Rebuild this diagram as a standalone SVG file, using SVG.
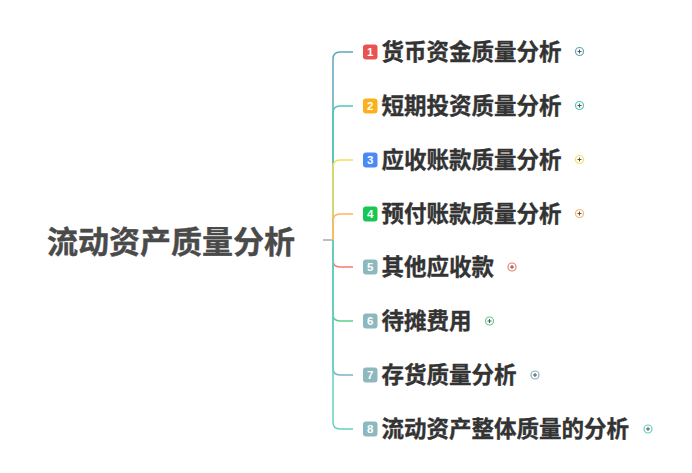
<svg xmlns="http://www.w3.org/2000/svg" width="692" height="473" viewBox="0 0 692 473">
<style>
.root{font-family:"Noto Sans CJK SC","Noto Sans",sans-serif;font-size:31px;font-weight:bold;fill:#4a4a4a;stroke:#4a4a4a;stroke-width:0.4}
.lbl{font-family:"Noto Sans CJK SC","Noto Sans",sans-serif;font-size:22.5px;font-weight:bold;fill:#333;stroke:#333;stroke-width:0.35}
.num{font-family:"Liberation Sans","DejaVu Sans",sans-serif;font-size:11.5px;font-weight:bold;fill:#fff;text-anchor:middle}
.br{fill:none;stroke-width:1.5}
.pl{fill:#fff;stroke-width:1.2}
.px{stroke:#555;stroke-width:1}
</style>
<rect width="692" height="473" fill="#fff"/>
<g id="connectors">
<line x1="323" y1="240" x2="333" y2="240" stroke="#aaaaaa" stroke-width="1.5"/>
<path class="br" stroke="#5ba7b9" d="M333,240 V59 Q333,52 340,52 H353"/>
<path class="br" stroke="#52c7b8" d="M333,240 V113 Q333,106 340,106 H353"/>
<path class="br" stroke="#f7dd5a" d="M333,240 V167 Q333,160 340,160 H353"/>
<path class="br" stroke="#ffb366" d="M333,240 V221 Q333,214 340,214 H353"/>
<path class="br" stroke="#f87c6c" d="M333,240 V260 Q333,267 340,267 H353"/>
<path class="br" stroke="#5dcf8a" d="M333,240 V314 Q333,321 340,321 H353"/>
<path class="br" stroke="#7fb2c9" d="M333,240 V368 Q333,375 340,375 H353"/>
<path class="br" stroke="#5ed3c0" d="M333,240 V422 Q333,429 340,429 H353"/>
</g>
<g id="root"><text class="root" x="47" y="252.5">流动资产质量分析</text></g>
<g id="n1">
<rect x="363" y="44.5" width="14.5" height="15" rx="3" fill="#e8524f"/><text class="num" x="370.2" y="56.2">1</text>
<text class="lbl" x="381.5" y="60">货币资金质量分析</text>
<circle class="pl" cx="579.5" cy="51.5" r="4" stroke="#5ba7b9"/><path class="px" d="M577.5,51.5h4M579.5,49.5v4"/>
</g>
<g id="n2">
<rect x="363" y="98.5" width="14.5" height="15" rx="3" fill="#fbb01c"/><text class="num" x="370.2" y="110.2">2</text>
<text class="lbl" x="381.5" y="114">短期投资质量分析</text>
<circle class="pl" cx="579.5" cy="105.5" r="4" stroke="#52c7b8"/><path class="px" d="M577.5,105.5h4M579.5,103.5v4"/>
</g>
<g id="n3">
<rect x="363" y="152.5" width="14.5" height="15" rx="3" fill="#4a8af4"/><text class="num" x="370.2" y="164.2">3</text>
<text class="lbl" x="381.5" y="168">应收账款质量分析</text>
<circle class="pl" cx="579.5" cy="159.5" r="4" stroke="#f7dd5a"/><path class="px" d="M577.5,159.5h4M579.5,157.5v4"/>
</g>
<g id="n4">
<rect x="363" y="206.5" width="14.5" height="15" rx="3" fill="#17c653"/><text class="num" x="370.2" y="218.2">4</text>
<text class="lbl" x="381.5" y="222">预付账款质量分析</text>
<circle class="pl" cx="579.5" cy="213.5" r="4" stroke="#ffb366"/><path class="px" d="M577.5,213.5h4M579.5,211.5v4"/>
</g>
<g id="n5">
<rect x="363" y="259.5" width="14.5" height="15" rx="3" fill="#8db8be"/><text class="num" x="370.2" y="271.2">5</text>
<text class="lbl" x="381.5" y="275">其他应收款</text>
<circle class="pl" cx="512" cy="267" r="4" stroke="#f87c6c"/><path class="px" d="M510,267h4M512,265v4"/>
</g>
<g id="n6">
<rect x="363" y="313.5" width="14.5" height="15" rx="3" fill="#8db8be"/><text class="num" x="370.2" y="325.2">6</text>
<text class="lbl" x="381.5" y="329">待摊费用</text>
<circle class="pl" cx="489.5" cy="321" r="4" stroke="#5dcf8a"/><path class="px" d="M487.5,321h4M489.5,319v4"/>
</g>
<g id="n7">
<rect x="363" y="367.5" width="14.5" height="15" rx="3" fill="#8db8be"/><text class="num" x="370.2" y="379.2">7</text>
<text class="lbl" x="381.5" y="383">存货质量分析</text>
<circle class="pl" cx="535" cy="375" r="4" stroke="#7fb2c9"/><path class="px" d="M533,375h4M535,373v4"/>
</g>
<g id="n8">
<rect x="363" y="421.5" width="14.5" height="15" rx="3" fill="#8db8be"/><text class="num" x="370.2" y="433.2">8</text>
<text class="lbl" x="381.5" y="437">流动资产整体质量的分析</text>
<circle class="pl" cx="648" cy="429" r="4" stroke="#5ed3c0"/><path class="px" d="M646,429h4M648,427v4"/>
</g>
</svg>
